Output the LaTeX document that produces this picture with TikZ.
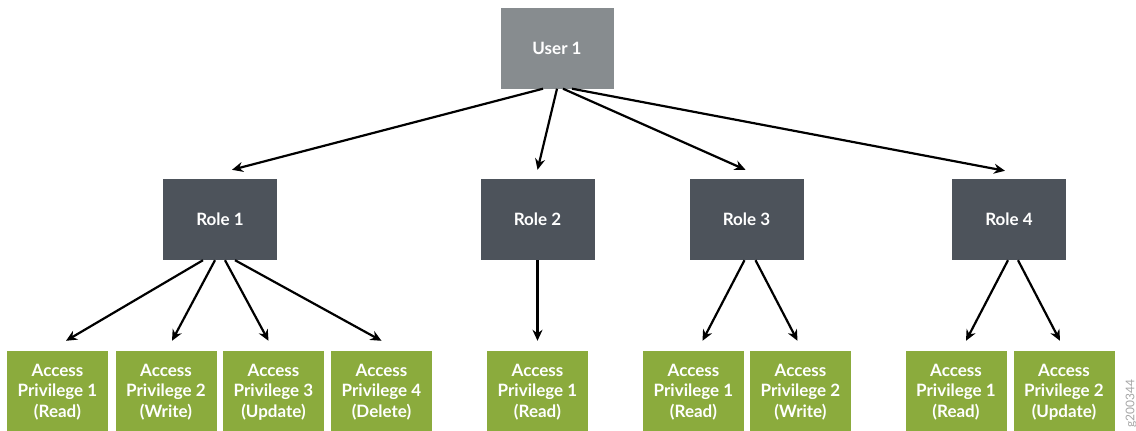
\documentclass[tikz,border=0pt]{standalone}
\usepackage{fontspec}
\setmainfont{Lato}
\usetikzlibrary{arrows.meta}
\definecolor{usergray}{HTML}{878C8F}
\definecolor{roledark}{HTML}{4D535B}
\definecolor{privgreen}{HTML}{8BAB3D}
\begin{document}
\begin{tikzpicture}
        [x=1pt,y=-1pt,
         box/.style={inner sep=0pt,text=white,align=center,
           font=\bfseries\fontsize{17}{20.5}\selectfont},
         userbox/.style={box,fill=usergray,minimum width=113pt,minimum height=81pt},
         rolebox/.style={box,fill=roledark,minimum width=114pt,minimum height=81pt},
         privbox/.style={box,fill=privgreen,minimum width=101pt,minimum height=82pt},
         link/.style={line width=2.2pt,-{Stealth[length=11pt,width=10pt]}}]
        \useasboundingbox (0,0) rectangle (1136,431);

        \node[userbox] (u1) at (557,48) {User 1};

        \node[rolebox] (r1) at (220,219.5) {Role 1};
        \node[rolebox] (r2) at (537.5,219.5) {Role 2};
        \node[rolebox] (r3) at (746.5,219.5) {Role 3};
        \node[rolebox] (r4) at (1009,219.5) {Role 4};

        \node[privbox] (a1) at (57.5,392) {Access\\Privilege 1\\(Read)};
        \node[privbox] (a2) at (166,392) {Access\\Privilege 2\\(Write)};
        \node[privbox] (a3) at (273.5,392) {Access\\Privilege 3\\(Update)};
        \node[privbox] (a4) at (381.5,392) {Access\\Privilege 4\\(Delete)};
        \node[privbox] (a5) at (537.5,392) {Access\\Privilege 1\\(Read)};
        \node[privbox] (a6) at (693.5,392) {Access\\Privilege 1\\(Read)};
        \node[privbox] (a7) at (800.5,392) {Access\\Privilege 2\\(Write)};
        \node[privbox] (a8) at (956,392) {Access\\Privilege 1\\(Read)};
        \node[privbox] (a9) at (1064,392) {Access\\Privilege 2\\(Update)};

        \draw[link] ([xshift=-14pt]u1.south) -- ([xshift=12pt,yshift=9pt]r1.north);
        \draw[link] (u1.south) -- ([yshift=9pt]r2.north);
        \draw[link] ([xshift=6pt]u1.south) -- ([xshift=-1pt,yshift=9pt]r3.north);
        \draw[link] ([xshift=15pt]u1.south) -- ([xshift=-4pt,yshift=8pt]r4.north);

        \draw[link] ([xshift=-17pt]r1.south) -- ([xshift=8.5pt,yshift=10pt]a1.north);
        \draw[link] ([xshift=-5pt]r1.south) -- ([xshift=6pt,yshift=10pt]a2.north);
        \draw[link] ([xshift=5pt]r1.south) -- ([xshift=-5pt,yshift=10pt]a3.north);
        \draw[link] ([xshift=15pt]r1.south) -- ([yshift=10pt]a4.north);

        \draw[link] (r2.south) -- ([yshift=10pt]a5.north);

        \draw[link] ([xshift=-2pt]r3.south) -- ([xshift=9pt,yshift=10pt]a6.north);
        \draw[link] ([xshift=9pt]r3.south) -- ([xshift=-3pt,yshift=10pt]a7.north);

        \draw[link] ([xshift=-1pt]r4.south) -- ([xshift=10pt,yshift=10pt]a8.north);
        \draw[link] ([xshift=9pt]r4.south) -- ([xshift=-4pt,yshift=10pt]a9.north);

        \node[rotate=90,anchor=west,text=gray!70,font=\fontsize{12}{12}\selectfont,inner sep=0pt] (tag) at (1131,428) {g200344};
      \end{tikzpicture}
\end{document}
